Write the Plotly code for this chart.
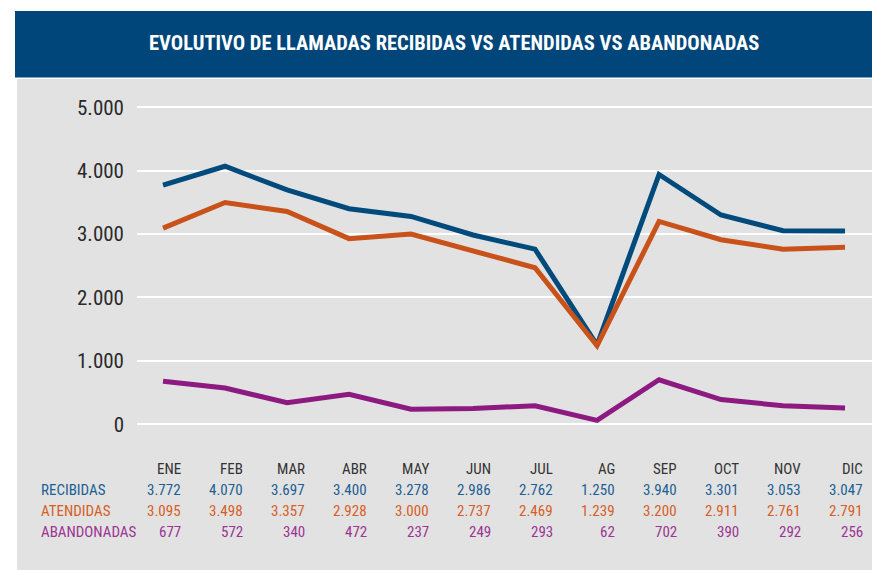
import plotly.graph_objects as go

meses = ["ENE", "FEB", "MAR", "ABR", "MAY", "JUN", "JUL", "AG", "SEP", "OCT", "NOV", "DIC"]
recibidas = [3772, 4070, 3697, 3400, 3278, 2986, 2762, 1250, 3940, 3301, 3053, 3047]
atendidas = [3095, 3498, 3357, 2928, 3000, 2737, 2469, 1239, 3200, 2911, 2761, 2791]
abandonadas = [677, 572, 340, 472, 237, 249, 293, 62, 702, 390, 292, 256]
y_ticks = [0, 1000, 2000, 3000, 4000, 5000]
titulo = "EVOLUTIVO DE LLAMADAS RECIBIDAS VS ATENDIDAS VS ABANDONADAS"

series = [
    ("RECIBIDAS", recibidas, "#004a7c", "#1d5f93"),
    ("ATENDIDAS", atendidas, "#c9521a", "#d65e26"),
    ("ABANDONADAS", abandonadas, "#8c1a80", "#9b3593"),
]

FONT = "Liberation Sans Narrow, Roboto Condensed, Arial Narrow, sans-serif"
W, H = 872, 570
ML, MR, MT, MB = 137, 0, 90, 130
PH = H - MT - MB

def py(pix):
    return (H - MB - pix) / PH

def px(pix):
    return (pix - ML) / (W - ML - MR)

fig = go.Figure()
for name, vals, col, _ in series:
    fig.add_trace(go.Scatter(x=meses, y=vals, mode="lines", name=name,
                             line=dict(color=col, width=5), showlegend=False,
                             hoverinfo="skip"))

shapes = [
    dict(type="rect", xref="paper", yref="paper", x0=px(17), x1=px(872), y0=py(570), y1=py(79),
         fillcolor="#e2e2e2", line=dict(width=0), layer="below"),
    dict(type="rect", xref="paper", yref="paper", x0=px(15), x1=px(872), y0=py(77.5), y1=py(11),
         fillcolor="#00467a", line=dict(width=0), layer="below"),
]

ann = [dict(text=f"<b>{titulo}</b>", xref="paper", yref="paper", x=px(454), y=py(43),
            xanchor="center", yanchor="middle", showarrow=False,
            font=dict(family=FONT, size=20.5, color="white"))]

row_y = [469, 490, 511, 532]
for m in meses:
    ann.append(dict(text=m, xref="x", yref="paper", x=m, y=py(row_y[0]), xanchor="right",
                    yanchor="middle", xshift=20, showarrow=False,
                    font=dict(family=FONT, size=15, color="#333333")))
for i, (name, vals, _, tcol) in enumerate(series):
    yy = py(row_y[i + 1])
    ann.append(dict(text=name, xref="paper", yref="paper", x=px(39), y=yy, xanchor="left",
                    yanchor="middle", showarrow=False,
                    font=dict(family=FONT, size=15, color=tcol)))
    for m, v in zip(meses, vals):
        ann.append(dict(text=f"{v:,}".replace(",", "."), xref="x", yref="paper", x=m, y=yy,
                        xanchor="right", yanchor="middle", xshift=20, showarrow=False,
                        font=dict(family=FONT, size=15, color=tcol)))

fig.update_layout(
    width=W, height=H,
    margin=dict(l=ML, r=MR, t=MT, b=MB),
    paper_bgcolor="white", plot_bgcolor="#e2e2e2",
    separators=",.",
    shapes=shapes, annotations=ann,
    xaxis=dict(type="category", range=[-0.42, 11.435], showgrid=False, showticklabels=False,
               zeroline=False, showline=False, ticks=""),
    yaxis=dict(range=[-248, 5273], tickvals=y_ticks, tickformat=",d", showgrid=True,
               gridcolor="white", gridwidth=2, zeroline=False, showline=False,
               ticks="", ticklabelstandoff=12,
               tickfont=dict(family=FONT, size=21, color="#2a2a2a")),
)

fig.write_html("out.html", config={"displayModeBar": False, "staticPlot": True},
               post_script="document.body.style.margin='0';document.body.style.padding='0';")
